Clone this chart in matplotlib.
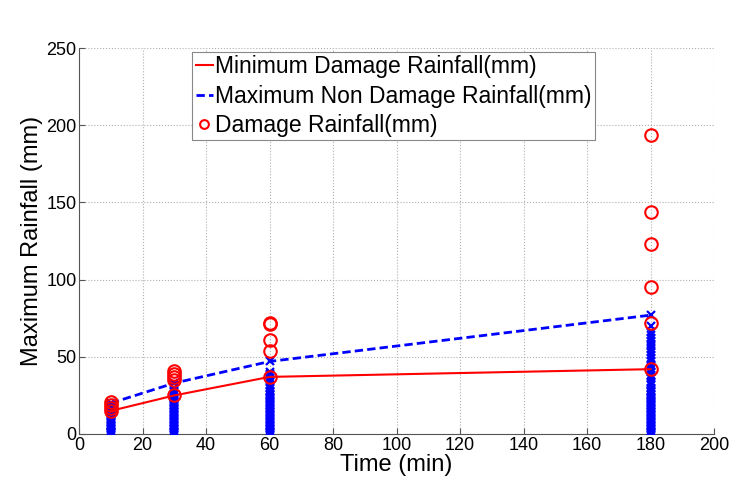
import matplotlib.pyplot as plt

plt.rcParams['font.family'] = ['Liberation Sans', 'DejaVu Sans']

# Time steps (min)
times = [10, 30, 60, 180]
min_damage = [15, 25, 37, 42]
max_non_damage = [20, 33, 47, 77]

# Damage rainfall observations at each duration
damage_10 = [21, 19, 17, 15]
damage_30 = [41, 39, 37, 35, 25]
damage_60 = [72, 71, 61, 54, 37]
damage_180 = [194, 144, 123, 95, 72, 42]

# Non-damage rainfall observations at each duration
nondamage_10 = [20, 18, 17, 16, 15, 14, 13, 12, 11, 10, 9, 8, 7, 6, 5, 4,
                3, 2, 1.5, 1, 0.5, 0]
nondamage_30 = [33, 30, 28, 27, 26, 25, 24, 23, 22, 21, 20, 19, 18, 17, 16,
                15, 14, 13, 12, 11, 10, 9, 8, 7, 6, 5, 4, 3, 2, 1, 0.5, 0]
nondamage_60 = [47, 40, 39, 38, 36, 35, 34, 32, 30, 28, 27, 26, 25, 24, 23,
                22, 21, 20, 19, 18, 17, 16, 15, 14, 13, 12, 11, 10, 9, 8, 7,
                6, 5, 4, 3, 2, 1, 0.5, 0]
nondamage_180 = [77, 70, 66, 64, 62, 60, 58, 57, 55, 53, 51, 49, 47, 45, 44,
                 42, 40, 38, 36, 34, 33, 32, 30, 28, 27, 26, 25, 24, 23, 22,
                 21, 20, 19, 18, 17, 16, 15, 14, 13, 12, 11, 10, 9, 8, 7, 6,
                 5, 4, 3, 2, 1, 0.5, 0]

fig = plt.figure(figsize=(7.54, 4.96), dpi=100)
ax = fig.add_axes([0.105, 0.125, 0.842, 0.778])

# Non-damage rainfall (blue crosses)
for t, vals in zip(times, [nondamage_10, nondamage_30, nondamage_60, nondamage_180]):
    ax.plot([t] * len(vals), vals, 'x', color='#0000ff', markersize=6,
            markeredgewidth=1.6, zorder=3)

line_min, = ax.plot(times, min_damage, '-', color='#ff0000', linewidth=1.5, zorder=4)
line_max, = ax.plot(times, max_non_damage, '--', color='#0000ff', linewidth=2,
                    dashes=(3, 1.5), zorder=4)

# Damage rainfall (red circles)
circ = None
for t, vals in zip(times, [damage_10, damage_30, damage_60, damage_180]):
    circ, = ax.plot([t] * len(vals), vals, 'o', markerfacecolor='none',
                    markeredgecolor='#ff0000', markersize=9, markeredgewidth=1.5,
                    zorder=5)

ax.set_xlim(0, 200)
ax.set_ylim(0, 250)
ax.set_xticks(range(0, 201, 20))
ax.set_yticks(range(0, 251, 50))
ax.grid(True, linestyle=':', color='#b0b0b0', linewidth=0.8)
ax.set_axisbelow(True)
for s in ['top', 'right']:
    ax.spines[s].set_visible(False)
ax.spines['left'].set_color('#555555')
ax.spines['bottom'].set_color('#555555')
ax.tick_params(direction='in', labelsize=13, length=4, color='#555555', pad=2)

ax.set_xlabel('Time (min)', fontsize=17, labelpad=0)
ax.set_ylabel('Maximum Rainfall (mm)', fontsize=17, labelpad=2)

leg = ax.legend([line_min, line_max, circ],
                ['Minimum Damage Rainfall(mm)', 'Maximum Non Damage Rainfall(mm)',
                 'Damage Rainfall(mm)'],
                loc='upper left', bbox_to_anchor=(0.178, 0.99), fontsize=16.5,
                frameon=True, fancybox=False, handlelength=0.75, handletextpad=0.1,
                borderpad=0.15, labelspacing=0.27, borderaxespad=0,
                markerscale=0.7)
leg.get_frame().set_edgecolor('#888888')
leg.get_frame().set_linewidth(0.8)
leg.get_frame().set_alpha(1)

fig.savefig('out.png', dpi=100)
